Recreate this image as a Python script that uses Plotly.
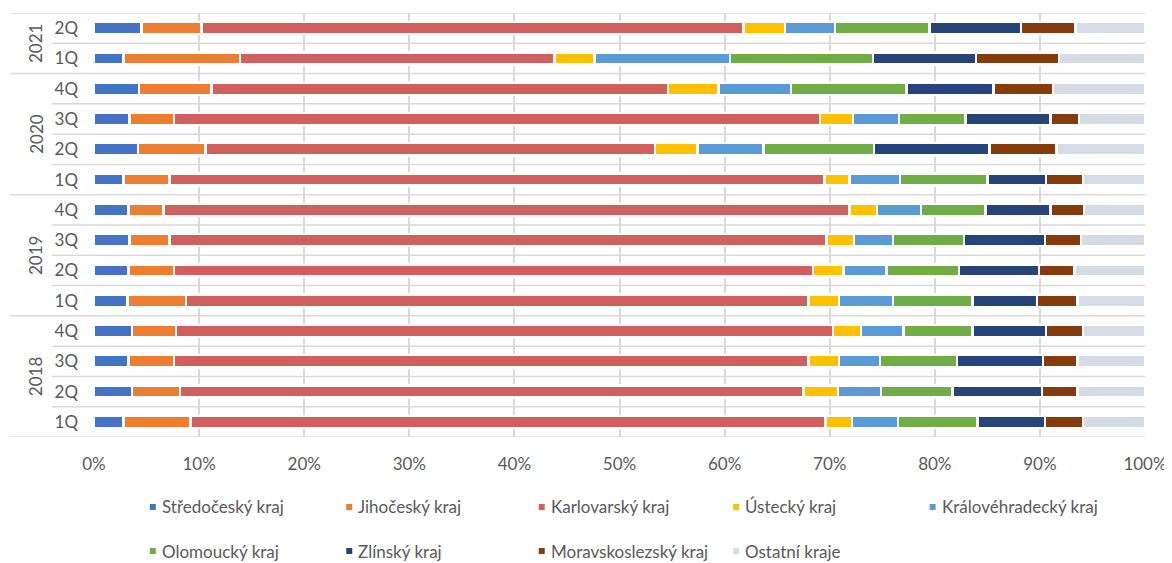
import plotly.graph_objects as go

years = ["2018"] * 4 + ["2019"] * 4 + ["2020"] * 4 + ["2021"] * 2
quarters = ["1Q", "2Q", "3Q", "4Q"] * 3 + ["1Q", "2Q"]
labels = [f"{y} {q}" for y, q in zip(years, quarters)]

series_names = ["Středočeský kraj", "Jihočeský kraj", "Karlovarský kraj", "Ústecký kraj",
                "Královéhradecký kraj", "Olomoucký kraj", "Zlínský kraj",
                "Moravskoslezský kraj", "Ostatní kraje"]

stredocesky = [2.8, 3.6, 3.3, 3.6, 3.2, 3.3, 3.4, 3.3, 2.8, 4.2, 3.4, 4.3, 2.8, 4.5]
jihocesky = [6.4, 4.6, 4.3, 4.2, 5.55, 4.3, 3.8, 3.3, 4.4, 6.4, 4.2, 6.9, 11.1, 5.75]
karlovarsky = [60.4, 59.3, 60.4, 62.5, 59.25, 60.8, 62.5, 65.3, 62.3, 42.8, 61.5, 43.4, 29.9, 51.55]
ustecky = [2.5, 3.3, 2.9, 2.7, 2.9, 2.9, 2.6, 2.6, 2.4, 4.0, 3.1, 4.8, 3.8, 3.95]
kralovehradecky = [4.4, 4.1, 3.9, 4.0, 5.1, 4.1, 3.7, 4.2, 4.8, 6.3, 4.4, 6.9, 12.9, 4.75]
olomoucky = [7.55, 6.8, 7.3, 6.6, 7.6, 6.9, 6.8, 6.1, 8.3, 10.5, 6.3, 11.0, 13.6, 9.0]
zlinsky = [6.45, 8.5, 8.2, 7.0, 6.1, 7.6, 7.7, 6.2, 5.6, 11.0, 8.1, 8.3, 9.8, 8.7]
moravskoslezsky = [3.6, 3.4, 3.3, 3.5, 3.9, 3.4, 3.4, 3.2, 3.5, 6.4, 2.7, 5.65, 7.9, 5.2]
ostatni = [5.9, 6.4, 6.4, 5.9, 6.4, 6.7, 6.1, 5.8, 5.9, 8.4, 6.3, 8.75, 8.2, 6.6]

series_values = [stredocesky, jihocesky, karlovarsky, ustecky, kralovehradecky,
                 olomoucky, zlinsky, moravskoslezsky, ostatni]
colors = ["#4472C4", "#ED7D31", "#D0605E", "#FFC000", "#5B9BD5",
          "#70AD47", "#264478", "#843C0C", "#D6DCE5"]

x_ticks = list(range(0, 101, 10))

OFF = 8  # page body margin of the browser
W, H = 1172 - OFF, 563 - OFF
L, R, T, B = 94 - OFF, 1148 - OFF, 13 - OFF, 437 - OFF
FONT = "Lato"
TXT = "#595959"
GRID = "#D9D9D9"
FS = 17


def px(xp):
    return (xp - OFF - L) / (R - L)


def py(yp):
    return (B - (yp - OFF)) / (B - T)


fig = go.Figure()
for name, vals, col in zip(series_names, series_values, colors):
    fig.add_trace(go.Bar(
        y=labels, x=vals, name=name, orientation="h",
        marker=dict(color=col, line=dict(color="white", width=2.5)),
        showlegend=False,
    ))

shapes = []
n = len(labels)
year_bounds = [-0.5]
for i in range(1, n):
    if years[i] != years[i - 1]:
        year_bounds.append(i - 0.5)
year_bounds.append(n - 0.5)
for i in range(n + 1):
    yv = i - 0.5
    x0 = px(10) if yv in year_bounds else px(52)
    shapes.append(dict(type="line", xref="paper", yref="y", x0=x0, x1=1,
                       y0=yv, y1=yv, line=dict(color=GRID, width=1.5), layer="below"))

annotations = []
for yr in sorted(set(years)):
    idx = [i for i, y in enumerate(years) if y == yr]
    annotations.append(dict(x=px(23), xref="paper", y=sum(idx) / len(idx), yref="y",
                            text=yr, showarrow=False, textangle=-90,
                            font=dict(family=FONT, size=FS, color=TXT)))

# legend built from the series names and colours
leg_cols = [153, 350, 543, 738, 935]
leg_rows = [507, 551]
for k, (name, col) in enumerate(zip(series_names, colors)):
    r, c = divmod(k, 5)
    mx, my = leg_cols[c], leg_rows[r]
    shapes.append(dict(type="rect", xref="paper", yref="paper",
                       x0=px(mx - 3), x1=px(mx + 3), y0=py(my + 3), y1=py(my - 3),
                       fillcolor=col, line=dict(width=0)))
    annotations.append(dict(x=px(mx + 7), xref="paper", y=py(my), yref="paper",
                            xanchor="left", yanchor="middle", text=name, showarrow=False,
                            font=dict(family=FONT, size=FS, color=TXT)))

fig.update_layout(
    width=W, height=H,
    margin=dict(l=L, r=W - R, t=T, b=H - B),
    paper_bgcolor="white", plot_bgcolor="white",
    barmode="stack", bargap=0.6,
    shapes=shapes, annotations=annotations,
    font=dict(family=FONT, size=FS, color=TXT),
    xaxis=dict(range=[0, 100], tickvals=x_ticks, ticktext=[f"{v}%" for v in x_ticks],
               showgrid=True, gridcolor=GRID, gridwidth=1.5, zeroline=False,
               showline=False, ticks="", ticklabelstandoff=15,
               tickfont=dict(family=FONT, size=FS, color=TXT)),
    yaxis=dict(type="category", categoryorder="array", categoryarray=labels,
               tickvals=labels, ticktext=quarters, range=[-0.5, n - 0.5],
               showgrid=False, zeroline=False, showline=False, ticks="",
               ticklabelstandoff=15, tickfont=dict(family=FONT, size=FS, color=TXT)),
)

fig.write_html("out.html")
